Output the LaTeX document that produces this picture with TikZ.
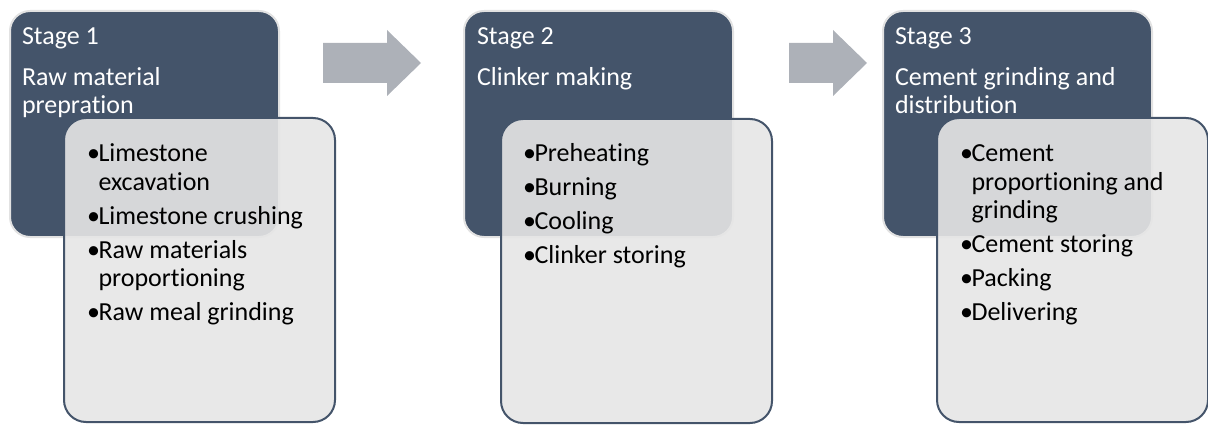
\documentclass[tikz,border=0pt]{standalone}
\usepackage{fontspec}
\setmainfont[Ligatures={NoCommon}]{Carlito}
\definecolor{darkfill}{HTML}{44546A}
\definecolor{lightfill}{HTML}{E6E6E6}
\definecolor{rim}{HTML}{E2E2E2}
\definecolor{arrowgray}{HTML}{ADB1B8}
\newcommand{\itm}[1]{\par\hangindent=11.5pt\hangafter=1\noindent\makebox[11.5pt][l]{\textbullet}#1}
\newcommand{\bulletlist}[1]{\parbox[t]{270pt}{\fontsize{26}{28.5}\selectfont\parskip=5.5pt\parindent=0pt #1}}
\newcommand{\titletext}[1]{\parbox[t]{260pt}{\fontsize{26}{28}\selectfont\parskip=13pt\parindent=0pt #1}}
\begin{document}
\begin{tikzpicture}[x=1pt,y=-1pt,
  darkbox/.style={draw=rim, line width=2pt, fill=darkfill, rounded corners=20pt,
    minimum width=269pt, minimum height=226pt, anchor=north west, inner sep=0pt},
  lightbox/.style={draw=darkfill, line width=2pt, fill=lightfill, fill opacity=0.9,
    rounded corners=22pt, minimum width=271pt, minimum height=304pt, anchor=north west, inner sep=0pt},
  txt/.style={anchor=base west, inner sep=0pt, outer sep=0pt, text opacity=1},
  titletxt/.style={txt, text=white},
  flowarrow/.style={fill=arrowgray}]
\useasboundingbox (0,0) rectangle (1208,425);
% Stage 1
\node[darkbox] (d1) at (9,10) {};
\node[titletxt] (t1) at (22,45) {\titletext{Stage 1\par Raw material\\prepration}};
\node[lightbox] (l1) at (63,117) {};
\node[txt] (b1) at (87,162) {\bulletlist{%
  \itm{Limestone\\excavation}
  \itm{Limestone crushing}
  \itm{Raw materials\\proportioning}
  \itm{Raw meal grinding}}};
% Stage 2
\node[darkbox] (d2) at (463,10) {};
\node[titletxt] (t2) at (477,45) {\titletext{Stage 2\par Clinker making}};
\node[lightbox] (l2) at (500,118) {};
\node[txt] (b2) at (523,162) {\bulletlist{%
  \itm{Preheating}
  \itm{Burning}
  \itm{Cooling}
  \itm{Clinker storing}}};
% Stage 3
\node[darkbox] (d3) at (882,10) {};
\node[titletxt] (t3) at (895,45) {\titletext{Stage 3\par Cement grinding and\\distribution}};
\node[lightbox] (l3) at (936,117) {};
\node[txt] (b3) at (960,162) {\bulletlist{%
  \itm{Cement\\proportioning and\\grinding}
  \itm{Cement storing}
  \itm{Packing}
  \itm{Delivering}}};
% Arrows
\fill[flowarrow] (323,43) -- (387,43) -- (387,30) -- (421,63) -- (387,96) -- (387,83) -- (323,83) -- cycle;
\fill[flowarrow] (789,43) -- (833,43) -- (833,30) -- (867,63) -- (833,96) -- (833,83) -- (789,83) -- cycle;
\end{tikzpicture}
\end{document}
